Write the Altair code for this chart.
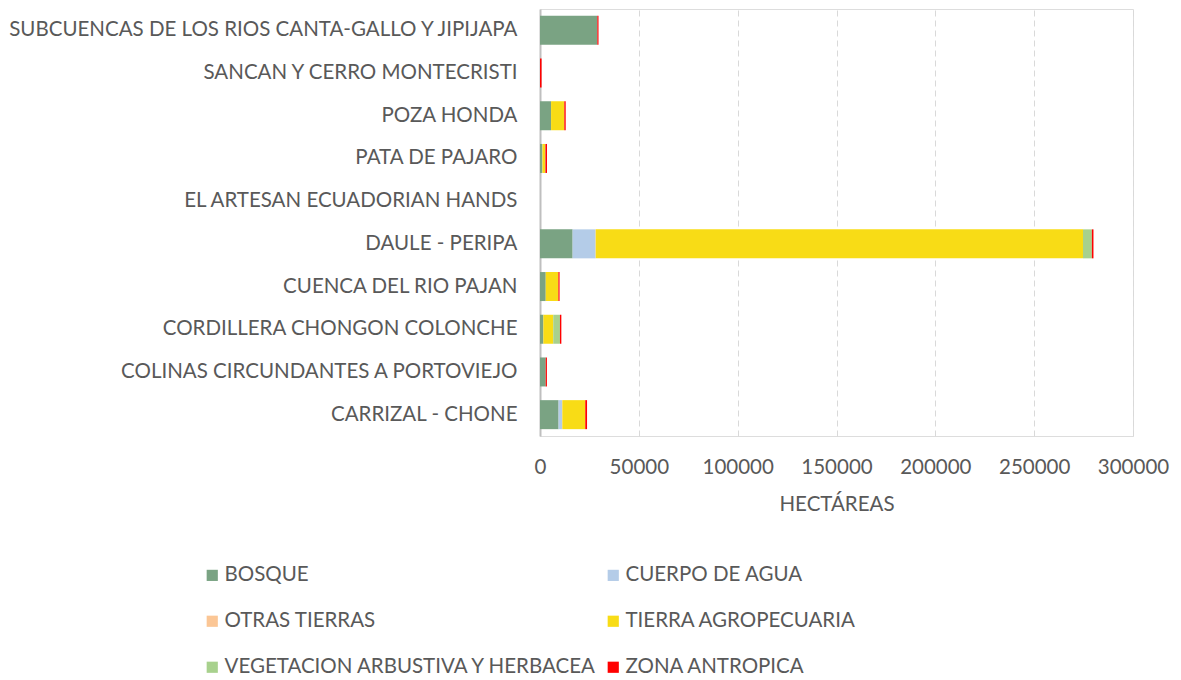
import altair as alt
import pandas as pd

categories = [
    "SUBCUENCAS DE LOS RIOS CANTA-GALLO Y JIPIJAPA",
    "SANCAN Y CERRO MONTECRISTI",
    "POZA HONDA",
    "PATA DE PAJARO",
    "EL ARTESAN ECUADORIAN HANDS",
    "DAULE - PERIPA",
    "CUENCA DEL RIO PAJAN",
    "CORDILLERA CHONGON COLONCHE",
    "COLINAS CIRCUNDANTES A PORTOVIEJO",
    "CARRIZAL - CHONE",
]
series = [
    "BOSQUE",
    "CUERPO DE AGUA",
    "OTRAS TIERRAS",
    "TIERRA AGROPECUARIA",
    "VEGETACION ARBUSTIVA Y HERBACEA",
    "ZONA ANTROPICA",
]
colors = ["#7AA383", "#B4CCE8", "#FBC695", "#F8DC16", "#A8D18D", "#FF0000"]
# legend order (column-major fill gives row-major reading like the reference)
legend_order = [0, 2, 4, 1, 3, 5]

bosque = [29000, 0, 5600, 1200, 0, 16500, 2900, 1700, 2900, 9400]
cuerpo = [0, 0, 0, 0, 0, 11600, 0, 0, 0, 1800]
otras = [0, 0, 0, 50, 0, 100, 0, 0, 0, 100]
tierra = [0, 0, 6700, 1300, 0, 246500, 6400, 5000, 0, 11600]
vegetacion = [0, 0, 0, 200, 0, 4500, 0, 3400, 0, 0]
zona = [600, 800, 700, 800, 0, 800, 600, 700, 600, 900]

values = [bosque, cuerpo, otras, tierra, vegetacion, zona]
rows = []
for si, (s, vals) in enumerate(zip(series, values)):
    for c, v in zip(categories, vals):
        rows.append({"cat": c, "serie": s, "ha": v, "ord": si})
df = pd.DataFrame(rows)

leg_domain = [series[i] for i in legend_order]
leg_range = [colors[i] for i in legend_order]

font = "Lato"
gray = "#595959"
fs = 20.5

chart = (
    alt.Chart(df)
    .mark_bar(size=29)
    .encode(
        y=alt.Y(
            "cat:N",
            sort=categories,
            title=None,
            axis=alt.Axis(
                ticks=False,
                labelPadding=23,
                labelFontSize=fs,
                labelColor=gray,
                labelFont=font,
                labelLimit=700,
                domainColor="#BFBFBF",
                domainWidth=2,
                grid=False,
            ),
        ),
        x=alt.X(
            "ha:Q",
            stack="zero",
            scale=alt.Scale(domain=[0, 300000], nice=False),
            title="HECTÁREAS",
            axis=alt.Axis(
                values=[0, 50000, 100000, 150000, 200000, 250000, 300000],
                format="d",
                domain=False,
                ticks=False,
                labelFlush=False,
                labelPadding=21,
                labelFontSize=fs,
                labelColor=gray,
                labelFont=font,
                titleFontSize=fs,
                titleFont=font,
                titleColor=gray,
                titleFontWeight="normal",
                titlePadding=17,
                gridColor="#D9D9D9",
                gridDash=[6, 4],
                gridWidth=1,
            ),
        ),
        color=alt.Color(
            "serie:N",
            scale=alt.Scale(domain=leg_domain, range=leg_range),
            legend=alt.Legend(
                title=None,
                orient="none",
                legendX=-338,
                legendY=556,
                columns=2,
                columnPadding=5,
                rowPadding=25,
                symbolType="square",
                symbolSize=125,
                symbolStrokeWidth=0,
                labelFontSize=fs,
                labelFont=font,
                labelColor=gray,
                labelLimit=600,
                labelOffset=2,
            ),
        ),
        order=alt.Order("ord:Q", sort="ascending"),
    )
    .properties(
        width=593,
        height=427,
        autosize=alt.AutoSizeParams(type="none"),
        padding={"left": 532, "top": 1, "right": 40, "bottom": 240},
    )
    .configure_view(strokeWidth=0, stroke="transparent")
    .configure(background="white")
)

chart.save("out.html", embed_options={"renderer": "svg", "actions": False})
